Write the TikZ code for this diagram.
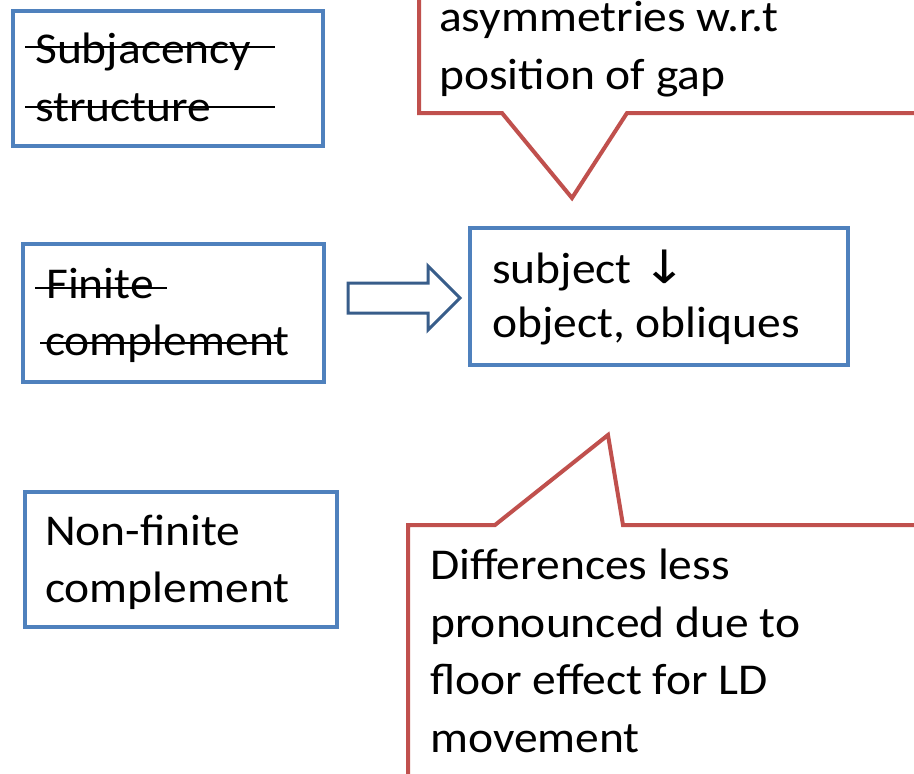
\documentclass[tikz,border=0pt]{standalone}
\usepackage{fontspec}
\setmainfont[FakeStretch=1.08]{Carlito}
\newfontfamily\symbolfont[FakeStretch=1.15]{DejaVu Sans}
\usetikzlibrary{calc}
\definecolor{boxblue}{HTML}{4F81BD}
\definecolor{calloutred}{HTML}{C0504D}
\definecolor{arrowblue}{HTML}{385D8A}
\tikzset{
  box/.style={draw=boxblue, line width=3.5pt, fill=white, inner sep=0pt},
  txt/.style={anchor=base west, inner sep=0pt, font=\fontsize{44}{52}\selectfont},
  strike/.style={draw=black, line width=2pt},
  callout/.style={draw=calloutred, line width=4pt, line join=miter, fill=white},
  blockarrow/.style={draw=arrowblue, line width=3pt, fill=white, line join=miter}
}
\begin{document}
\begin{tikzpicture}[x=1pt, y=-1pt]
\useasboundingbox (0,0) rectangle (914,774);
\fill[white] (0,0) rectangle (914,774);

% speech callouts, running off the page edges
\path[callout] (419,-30) -- (419,113) -- (502,113) -- (572,198) -- (627,113) -- (940,113);
\path[callout] (408,800) -- (408,525) -- (495,525) -- (608,435) -- (623,525) -- (940,525);

\node[txt] (cTa) at (439,31) {asymmetries w.r.t};
\node[txt] (cTb) at (439,89) {position of gap};

\node[txt] (cBa) at (430,579) {Differences less};
\node[txt] (cBb) at (430,637) {pronounced due to};
\node[txt] (cBc) at (430,694) {floor effect for LD};
\node[txt] (cBd) at (430,752) {movement};

% boxes
\node[box, minimum width=310pt, minimum height=135pt] (subj) at (168,78.5) {};
\node[box, minimum width=301pt, minimum height=138pt] (fin) at (173.5,313) {};
\node[box, minimum width=378pt, minimum height=137pt] (res) at (659,296.5) {};
\node[box, minimum width=312pt, minimum height=135pt] (nonfin) at (181,559.5) {};

% box texts
\node[txt] (s1) at (35,63) {Subjacency};
\node[txt] (s2) at (35,121) {structure};
\draw[strike] (25,47) -- (275,47);
\draw[strike] (25,107) -- (275,107);

\node[txt] (f1) at (46,298) {Finite};
\node[txt] (f2) at (45,355) {complement};
\draw[strike] (35,288) -- (167,288);
\draw[strike] (40,343) -- (277,343);

\node[txt] (r1) at (492,283) {subject {\symbolfont\fontsize{46}{52}\selectfont↓}};
\node[txt] (r2) at (492,337) {object, obliques};

\node[txt] (n1) at (45,545) {Non-finite};
\node[txt] (n2) at (45,602) {complement};

% block arrow from the finite-complement box to the result box
\path[blockarrow] (348,283) -- (428,283) -- (428,266) -- (460,298)
  -- (428,330) -- (428,313) -- (348,313) -- cycle;
\end{tikzpicture}
\end{document}
